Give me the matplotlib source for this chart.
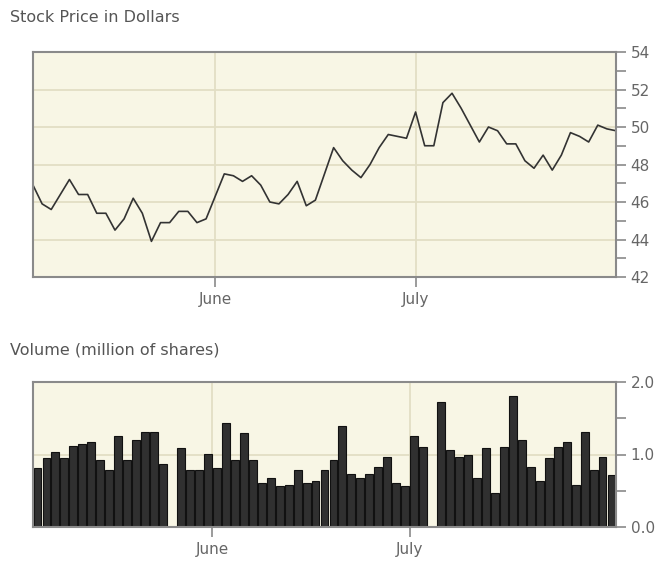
import matplotlib.pyplot as plt
from matplotlib.ticker import MultipleLocator

# closing price per trading slot (holiday slots repeat the previous close)
price = [
    46.9, 45.9, 45.6, 46.4, 47.2, 46.4, 46.4, 45.4, 45.4, 44.5,
    45.1, 46.2, 45.4, 43.9, 44.9, 44.9, 45.5, 45.5, 44.9, 45.1,
    46.3, 47.5, 47.4, 47.1, 47.4, 46.9, 46.0, 45.9, 46.4, 47.1,
    45.8, 46.1, 47.5, 48.9, 48.2, 47.7, 47.3, 48.0, 48.9, 49.6,
    49.5, 49.4, 50.8, 49.0, 49.0, 51.3, 51.8, 51.0, 50.1, 49.2,
    50.0, 49.8, 49.1, 49.1, 48.2, 47.8, 48.5, 47.7, 48.5, 49.7,
    49.5, 49.2, 50.1, 49.9, 49.8,
]

# volume in million shares (0 on holiday slots)
volume = [
    0.81, 0.95, 1.03, 0.95, 1.12, 1.15, 1.17, 0.92, 0.78, 1.26,
    0.92, 1.20, 1.31, 1.31, 0.87, 0.00, 1.09, 0.78, 0.78, 1.01,
    0.81, 1.43, 0.92, 1.29, 0.92, 0.61, 0.67, 0.56, 0.58, 0.78,
    0.61, 0.64, 0.78, 0.92, 1.39, 0.73, 0.67, 0.73, 0.83, 0.97,
    0.61, 0.56, 1.25, 1.11, 0.00, 1.73, 1.06, 0.97, 1.00, 0.67,
    1.09, 0.47, 1.11, 1.81, 1.20, 0.83, 0.64, 0.95, 1.11, 1.17,
    0.58, 1.31, 0.78, 0.97, 0.72,
]

month_labels = ["June", "July"]
month_starts = [20, 42]  # slot index of first trading day

BG = "#f8f6e5"
GRID = "#e2dec4"
FRAME = "#8a8a8a"
TEXT = "#666666"


def style_axes(ax):
    ax.set_facecolor(BG)
    for sp in ax.spines.values():
        sp.set_color(FRAME)
        sp.set_linewidth(1.5)
    ax.yaxis.tick_right()
    ax.tick_params(axis="both", which="both", colors=FRAME, labelcolor=TEXT,
                   length=7, width=1.2, labelsize=11, direction="out")
    ax.tick_params(axis="y", which="both", left=False, right=True)
    ax.tick_params(axis="x", which="both", top=False, bottom=True)
    ax.set_xticks(month_starts)
    ax.set_xticklabels(month_labels)
    ax.grid(True, which="major", color=GRID, linewidth=1.3)
    ax.set_axisbelow(True)


fig = plt.figure(figsize=(6.6, 5.67), dpi=100)

# price chart
ax1 = fig.add_axes([33 / 660, 1 - 277 / 567, 583 / 660, 225 / 567])
style_axes(ax1)
ax1.plot(range(len(price)), price, color="#333333", linewidth=1.2)
ax1.set_xlim(0, len(price) - 1)
ax1.set_ylim(42, 54)
ax1.yaxis.set_major_locator(MultipleLocator(2))
ax1.yaxis.set_minor_locator(MultipleLocator(1))

# volume chart
ax2 = fig.add_axes([33 / 660, 1 - 527 / 567, 583 / 660, 145 / 567])
style_axes(ax2)
xs = [i + 0.5 for i in range(len(volume))]
ax2.bar(xs, volume, width=0.88, color="#303030", edgecolor="#111111", linewidth=0.8)
ax2.set_xlim(0, len(volume))
ax2.set_ylim(0, 2.0)
ax2.yaxis.set_major_locator(MultipleLocator(1.0))
ax2.yaxis.set_minor_locator(MultipleLocator(0.5))
ax2.yaxis.set_major_formatter(plt.FormatStrFormatter("%.1f"))

fig.text(10 / 660, 1 - 18 / 567, "Stock Price in Dollars", color="#555555",
         fontsize=11.5, va="center", ha="left")
fig.text(10 / 660, 1 - 350 / 567, "Volume (million of shares)", color="#555555",
         fontsize=11.5, va="center", ha="left")

fig.savefig("out.png", dpi=100)
